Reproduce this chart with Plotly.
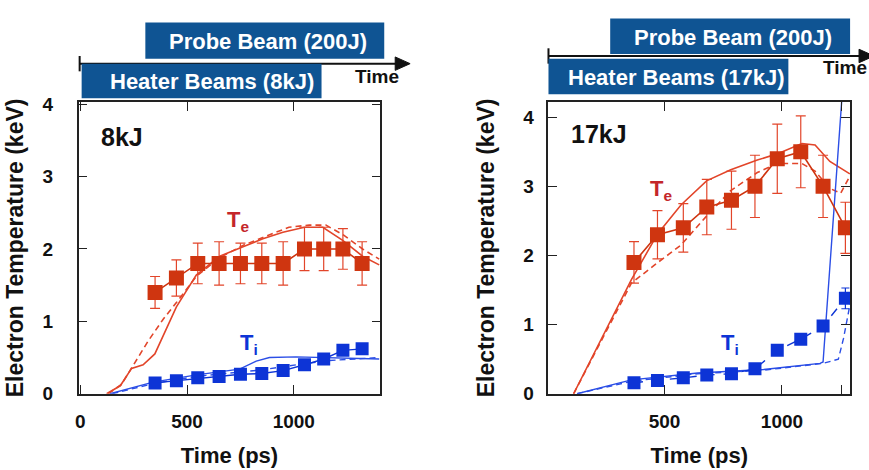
import plotly.graph_objects as go

W, H = 869, 470

# ---------------- data : 8 kJ ----------------
t8 = [350, 450, 550, 650, 750, 850, 950, 1050, 1140, 1230, 1320]
te8 = [1.4, 1.6, 1.8, 1.8, 1.8, 1.8, 1.8, 2.0, 2.0, 2.0, 1.8]
te8_err = [0.22, 0.25, 0.28, 0.3, 0.28, 0.28, 0.3, 0.3, 0.3, 0.28, 0.3]
ti8 = [0.15, 0.18, 0.22, 0.24, 0.27, 0.28, 0.32, 0.40, 0.48, 0.60, 0.62]
ti8_err = [0.05] * 11

sim8_te_x = [123, 187, 240, 294, 349, 450, 543, 653, 762, 855, 949, 1050, 1136, 1229, 1322, 1400]
sim8_te_y = [0, 0.11, 0.35, 0.4, 0.55, 1.2, 1.64, 1.9, 2.03, 2.14, 2.23, 2.3, 2.3, 2.12, 1.9, 1.78]
sim8_ted_x = [131, 193, 318, 388, 450, 543, 653, 762, 855, 977, 1072, 1150, 1229, 1322, 1400]
sim8_ted_y = [0, 0.13, 0.73, 1.03, 1.26, 1.62, 1.88, 2.05, 2.16, 2.3, 2.33, 2.33, 2.2, 2.0, 1.86]
sim8_ti_x = [139, 341, 544, 746, 824, 886, 1011, 1167, 1400]
sim8_ti_y = [0, 0.16, 0.26, 0.34, 0.45, 0.5, 0.51, 0.5, 0.48]
sim8_tid_x = [150, 341, 544, 850, 1011, 1167, 1400]
sim8_tid_y = [0, 0.14, 0.24, 0.33, 0.4, 0.46, 0.5]

# ---------------- data : 17 kJ ----------------
t17 = [370, 470, 580, 680, 785, 885, 980, 1080, 1175, 1270]
te17 = [1.9, 2.3, 2.4, 2.7, 2.8, 3.0, 3.4, 3.5, 3.0, 2.4]
te17_err = [0.3, 0.35, 0.35, 0.4, 0.42, 0.45, 0.5, 0.52, 0.45, 0.37]
ti17 = [0.16, 0.19, 0.23, 0.27, 0.29, 0.36, 0.63, 0.79, 0.98, 1.38]
ti17_err = [0.04, 0.04, 0.04, 0.04, 0.04, 0.05, 0.05, 0.05, 0.07, 0.15]

sim17_te_x = [113, 359, 472, 570, 679, 782, 895, 979, 1085, 1141, 1204, 1289]
sim17_te_y = [0, 1.65, 2.32, 2.73, 3.08, 3.24, 3.38, 3.47, 3.62, 3.6, 3.36, 3.18]
sim17_ted_x = [113, 359, 472, 570, 679, 782, 895, 979, 1085, 1141, 1204, 1250, 1289]
sim17_ted_y = [0, 1.6, 1.9, 2.15, 2.57, 2.94, 3.2, 3.33, 3.33, 3.22, 2.97, 2.9, 3.15]
sim17_ti_x = [128, 359, 641, 922, 1162, 1175, 1262]
sim17_ti_y = [0, 0.2, 0.3, 0.35, 0.44, 0.46, 4.6]
sim17_tid_x = [128, 359, 641, 922, 1175, 1240, 1262, 1280, 1290]
sim17_tid_y = [0, 0.18, 0.29, 0.34, 0.44, 0.5, 0.8, 1.15, 1.3]

x_ticks = [0, 500, 1000]
y_ticks = [0, 1, 2, 3, 4]

RED = "#cf3510"
RED_LINE = "#e2452a"
RED_TXT = "#c4262a"
BLUE = "#0d34d6"
BLUE_LINE = "#2b4ee6"
BOX = "#0f5493"
FONT = "Liberation Sans"

fig = go.Figure()


def add_panel(xa, ya, t, te, te_err, ti, ti_err, ste, ste_d, sti, sti_d, ti_dash):
    # simulation lines
    fig.add_trace(go.Scatter(x=ste[0], y=ste[1], mode="lines", xaxis=xa, yaxis=ya,
                             line=dict(color=RED_LINE, width=1.6), showlegend=False))
    fig.add_trace(go.Scatter(x=ste_d[0], y=ste_d[1], mode="lines", xaxis=xa, yaxis=ya,
                             line=dict(color=RED_LINE, width=1.6, dash="6px,4px"), showlegend=False))
    fig.add_trace(go.Scatter(x=sti[0], y=sti[1], mode="lines", xaxis=xa, yaxis=ya,
                             line=dict(color=BLUE_LINE, width=1.4), showlegend=False))
    fig.add_trace(go.Scatter(x=sti_d[0], y=sti_d[1], mode="lines", xaxis=xa, yaxis=ya,
                             line=dict(color=BLUE_LINE, width=1.4, dash="6px,4px"), showlegend=False))
    # measured data
    fig.add_trace(go.Scatter(x=t, y=te, mode="lines+markers", xaxis=xa, yaxis=ya,
                             line=dict(color=RED, width=1.6),
                             marker=dict(symbol="square", size=15, color=RED),
                             error_y=dict(type="data", array=te_err, color=RED_LINE,
                                          thickness=1.2, width=5),
                             showlegend=False))
    fig.add_trace(go.Scatter(x=t, y=ti, mode="lines+markers", xaxis=xa, yaxis=ya,
                             line=dict(color=BLUE, width=1.4, dash="dash" if ti_dash else "solid"),
                             marker=dict(symbol="square", size=13, color=BLUE),
                             error_y=dict(type="data", array=ti_err, color=BLUE,
                                          thickness=1.2, width=4),
                             showlegend=False))


add_panel("x", "y", t8, te8, te8_err, ti8, ti8_err,
          (sim8_te_x, sim8_te_y), (sim8_ted_x, sim8_ted_y),
          (sim8_ti_x, sim8_ti_y), (sim8_tid_x, sim8_tid_y), False)
add_panel("x2", "y2", t17, te17, te17_err, ti17, ti17_err,
          (sim17_te_x, sim17_te_y), (sim17_ted_x, sim17_ted_y),
          (sim17_ti_x, sim17_ti_y), (sim17_tid_x, sim17_tid_y), True)


def X(p):
    return p / W


def Y(p):
    return 1 - p / H


tickfont = dict(family=FONT, size=19, color="#111", weight="bold")
xtitlefont = dict(family=FONT, size=22, color="#111", weight="bold")
ytitlefont = dict(family=FONT, size=23, color="#111", weight="bold")
ydom = [Y(402), Y(98)]

common_x = dict(showgrid=False, zeroline=False, showline=True, linecolor="#222", linewidth=1.5,
                ticks="inside", ticklen=9, tickwidth=1.2, tickcolor="#222", mirror="allticks",
                tickfont=tickfont, ticklabelstandoff=10)
common_y = dict(showgrid=False, zeroline=False, showline=True, linecolor="#222", linewidth=1.5,
                ticks="inside", ticklen=9, tickwidth=1.2, tickcolor="#222", mirror="allticks",
                tickfont=tickfont, tickvals=y_ticks)

fig.update_layout(
    width=W, height=H, margin=dict(l=0, r=0, t=0, b=0),
    plot_bgcolor="white", paper_bgcolor="white",
    xaxis=dict(domain=[X(75), X(378)], range=[-8, 1405], tickvals=x_ticks,
               title=dict(text="Time (ps)", font=xtitlefont, standoff=16), **common_x),
    yaxis=dict(domain=ydom, range=[0, 4.03], anchor="x", ticklabelstandoff=20,
               title=dict(text="Electron Temperature (keV)", font=ytitlefont, standoff=12), **common_y),
    xaxis2=dict(domain=[X(547), X(850)], range=[6, 1290], tickvals=x_ticks + [1255],
                ticktext=["0", "500", "1000", ""], anchor="y2",
                title=dict(text="Time (ps)", font=xtitlefont, standoff=16), **common_x),
    yaxis2=dict(domain=ydom, range=[0, 4.22], anchor="x2", ticklabelstandoff=9,
                title=dict(text="Electron Temperature (keV)", font=ytitlefont, standoff=22), **common_y),
)

shapes = []
annotations = []


def beam_diagram(x0, y_line, x_tip, probe, heater, heater_text, time_x, time_y, offs):
    # arrow line
    shapes.append(dict(type="line", xref="paper", yref="paper", x0=X(x0), x1=X(x_tip - 12),
                       y0=Y(y_line), y1=Y(y_line), line=dict(color="#111", width=2)))
    shapes.append(dict(type="line", xref="paper", yref="paper", x0=X(x0), x1=X(x0),
                       y0=Y(y_line - 8), y1=Y(y_line + 8), line=dict(color="#111", width=2)))
    shapes.append(dict(type="path", xref="paper", yref="paper",
                       path=f"M {X(x_tip - 15)} {Y(y_line - 7)} L {X(x_tip)} {Y(y_line)} L {X(x_tip - 15)} {Y(y_line + 7)} Z",
                       fillcolor="#111", line=dict(color="#111", width=1)))
    for (bx0, by0, bx1, by1), txt, off in ((probe, "Probe Beam (200J)", offs[0]),
                                           (heater, heater_text, offs[1])):
        shapes.append(dict(type="rect", xref="paper", yref="paper", x0=X(bx0), x1=X(bx1),
                           y0=Y(by1), y1=Y(by0), fillcolor=BOX, line=dict(width=0), layer="above"))
        annotations.append(dict(text=txt, xref="paper", yref="paper", x=X((bx0 + bx1) / 2 + off),
                                y=Y((by0 + by1) / 2 + 1), showarrow=False, xanchor="center", yanchor="middle",
                                font=dict(family=FONT, size=22, color="white", weight="bold")))
    annotations.append(dict(text="Time", xref="paper", yref="paper", x=X(time_x), y=Y(time_y),
                            showarrow=False, xanchor="left", yanchor="middle",
                            font=dict(family=FONT, size=19, color="#111", weight="bold")))


beam_diagram(76, 58, 408, (142, 15, 382, 53), (78, 58, 319, 94), "Heater Beams (8kJ)", 351, 71, (3, 10))
beam_diagram(547, 50, 874, (609, 11, 850, 48), (547, 53, 788, 90), "Heater Beams (17kJ)", 821, 62, (3, 8))

# panel labels
annotations.append(dict(text="8kJ", xref="paper", yref="paper", x=X(95), y=Y(134), showarrow=False,
                        xanchor="left", yanchor="middle",
                        font=dict(family=FONT, size=25, color="#111", weight="bold")))
annotations.append(dict(text="17kJ", xref="paper", yref="paper", x=X(568), y=Y(131), showarrow=False,
                        xanchor="left", yanchor="middle",
                        font=dict(family=FONT, size=25, color="#111", weight="bold")))

# species labels
for tx, ty, txt, col in ((222, 222, "T<sub>e</sub>", RED_TXT), (235, 350, "T<sub>i</sub>", BLUE),
                         (647, 190, "T<sub>e</sub>", RED_TXT), (718, 350, "T<sub>i</sub>", BLUE)):
    annotations.append(dict(text=txt, xref="paper", yref="paper", x=X(tx), y=Y(ty), showarrow=False,
                            xanchor="left", yanchor="middle",
                            font=dict(family=FONT, size=22, color=col, weight="bold")))

fig.update_layout(shapes=shapes, annotations=annotations)

fig.write_html("out.html")
